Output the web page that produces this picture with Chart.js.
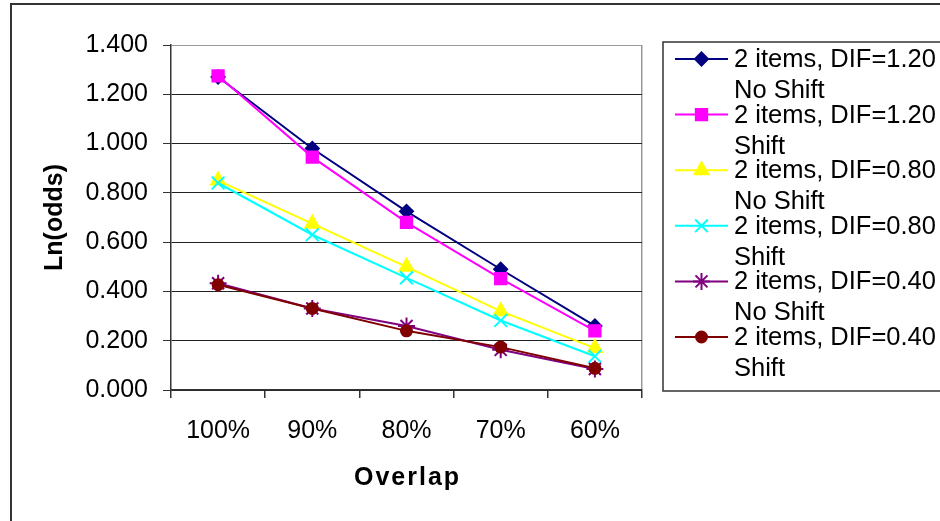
<!DOCTYPE html>
<html><head><meta charset="utf-8">
<script src="https://cdn.jsdelivr.net/npm/chart.js@4/dist/chart.umd.min.js"></script>
<style>html,body{margin:0;padding:0;background:#fff}canvas{display:block}</style>
</head><body>
<canvas id="c" width="940" height="521"></canvas>
<script>
// ---- data ----
const categories = ['100%', '90%', '80%', '70%', '60%'];
const dif120NoShift = [1.270, 0.980, 0.725, 0.490, 0.260];
const dif120Shift   = [1.275, 0.945, 0.680, 0.452, 0.240];
const dif080NoShift = [0.850, 0.675, 0.500, 0.320, 0.170];
const dif080Shift   = [0.840, 0.630, 0.455, 0.282, 0.137];
const dif040NoShift = [0.433, 0.331, 0.260, 0.163, 0.085];
const dif040Shift   = [0.427, 0.331, 0.240, 0.174, 0.088];
const legendLine1 = ['2 items, DIF=1.20', '2 items, DIF=1.20', '2 items, DIF=0.80', '2 items, DIF=0.80', '2 items, DIF=0.40', '2 items, DIF=0.40'];
const legendLine2 = ['No Shift', 'Shift', 'No Shift', 'Shift', 'No Shift', 'Shift'];
const yMin = 0, yMax = 1.4, yStep = 0.2;
const yAxisTitle = 'Ln(odds)';
const xAxisTitle = 'Overlap';

// ---- styles ----
const FONT = '"Liberation Sans", Arial, Helvetica, sans-serif';
const seriesValues = [dif120NoShift, dif120Shift, dif080NoShift, dif080Shift, dif040NoShift, dif040Shift];
const seriesStyles = [
  {color: '#000080', point: 'rectRot', r: 6.5},
  {color: '#FF00FF', point: 'rect', r: 8},
  {color: '#FFFF00', point: 'triangle', r: 8},
  {color: '#00FFFF', point: 'crossRot', r: 9},
  {color: '#800080', point: 'star', r: 8.5},
  {color: '#800000', point: 'circle', r: 5.5}
];

const datasets = seriesValues.map((vals, i) => ({
  label: legendLine1[i] + ' ' + legendLine2[i],
  data: vals,
  borderColor: seriesStyles[i].color,
  backgroundColor: seriesStyles[i].color,
  pointStyle: seriesStyles[i].point,
  pointRadius: seriesStyles[i].r,
  pointBorderWidth: 2,
  pointBackgroundColor: seriesStyles[i].color,
  pointBorderColor: seriesStyles[i].color,
  borderWidth: 2,
  tension: 0,
  order: seriesValues.length - i
}));

const decor = {
  id: 'decor',
  beforeDraw(chart) {
    const ctx = chart.ctx;
    ctx.save();
    ctx.fillStyle = '#fff';
    ctx.fillRect(0, 0, chart.width, chart.height);
    ctx.strokeStyle = '#333';
    ctx.lineWidth = 2;
    ctx.strokeRect(11, 4, chart.width + 20, chart.height + 20);
    ctx.restore();
  },
  afterDraw(chart) {
    const ctx = chart.ctx;
    const area = chart.chartArea;
    ctx.save();
    // x axis title
    ctx.font = 'bold 25px ' + FONT;
    ctx.fillStyle = '#000';
    ctx.textAlign = 'center';
    ctx.textBaseline = 'middle';
    try { ctx.letterSpacing = '2px'; } catch (e) {}
    ctx.fillText(xAxisTitle, (area.left + area.right) / 2 + 1, 478);
    try { ctx.letterSpacing = '0px'; } catch (e) {}
    // legend
    ctx.strokeStyle = '#333';
    ctx.lineWidth = 1.5;
    ctx.strokeRect(663, 42, 300, 349);
    ctx.font = '25.5px ' + FONT;
    ctx.textAlign = 'left';
    const pitch = 55.6;
    chart.data.datasets.forEach((ds, i) => {
      const y = 59 + i * pitch;
      ctx.strokeStyle = ds.borderColor;
      ctx.lineWidth = 2;
      ctx.beginPath();
      ctx.moveTo(675, y);
      ctx.lineTo(728, y);
      ctx.stroke();
      ctx.fillStyle = ds.backgroundColor;
      Chart.helpers.drawPoint(ctx, {pointStyle: ds.pointStyle, radius: ds.pointRadius, rotation: 0, borderWidth: 2}, 701.5, y);
      ctx.fillStyle = '#000';
      ctx.fillText(legendLine1[i], 734, y + 1);
      ctx.fillText(legendLine2[i], 734, y + 32);
    });
    ctx.restore();
  }
};

new Chart(document.getElementById('c'), {
  type: 'line',
  data: {labels: categories, datasets},
  options: {
    responsive: false,
    animation: false,
    layout: {padding: {top: 45, right: 298, left: 0, bottom: 0}},
    plugins: {legend: {display: false}, tooltip: {enabled: false}},
    scales: {
      x: {
        offset: true,
        afterFit(s) { s.height = 131; },
        ticks: {font: {family: FONT, size: 25}, color: '#000', padding: 18, maxRotation: 0},
        grid: {offset: true, drawOnChartArea: true, color: c => (c.tick ? 'rgba(0,0,0,0)' : '#999'), tickColor: '#333', tickLength: 8, lineWidth: 1.5},
        border: {color: '#333', width: 1.5}
      },
      y: {
        min: yMin, max: yMax,
        afterFit(s) { s.width = 171; },
        ticks: {stepSize: yStep, callback: v => Number(v).toFixed(3), font: {family: FONT, size: 25}, color: '#000', padding: 15},
        grid: {color: c => (c.index === 7 ? '#999' : '#222'), tickColor: '#333', tickLength: 8, lineWidth: 1},
        border: {color: '#333', width: 1.5},
        title: {display: true, text: yAxisTitle, font: {family: FONT, size: 25, weight: 'bold'}, color: '#000', padding: {top: 40, bottom: 0}}
      }
    }
  },
  plugins: [decor]
});
</script>
</body></html>
